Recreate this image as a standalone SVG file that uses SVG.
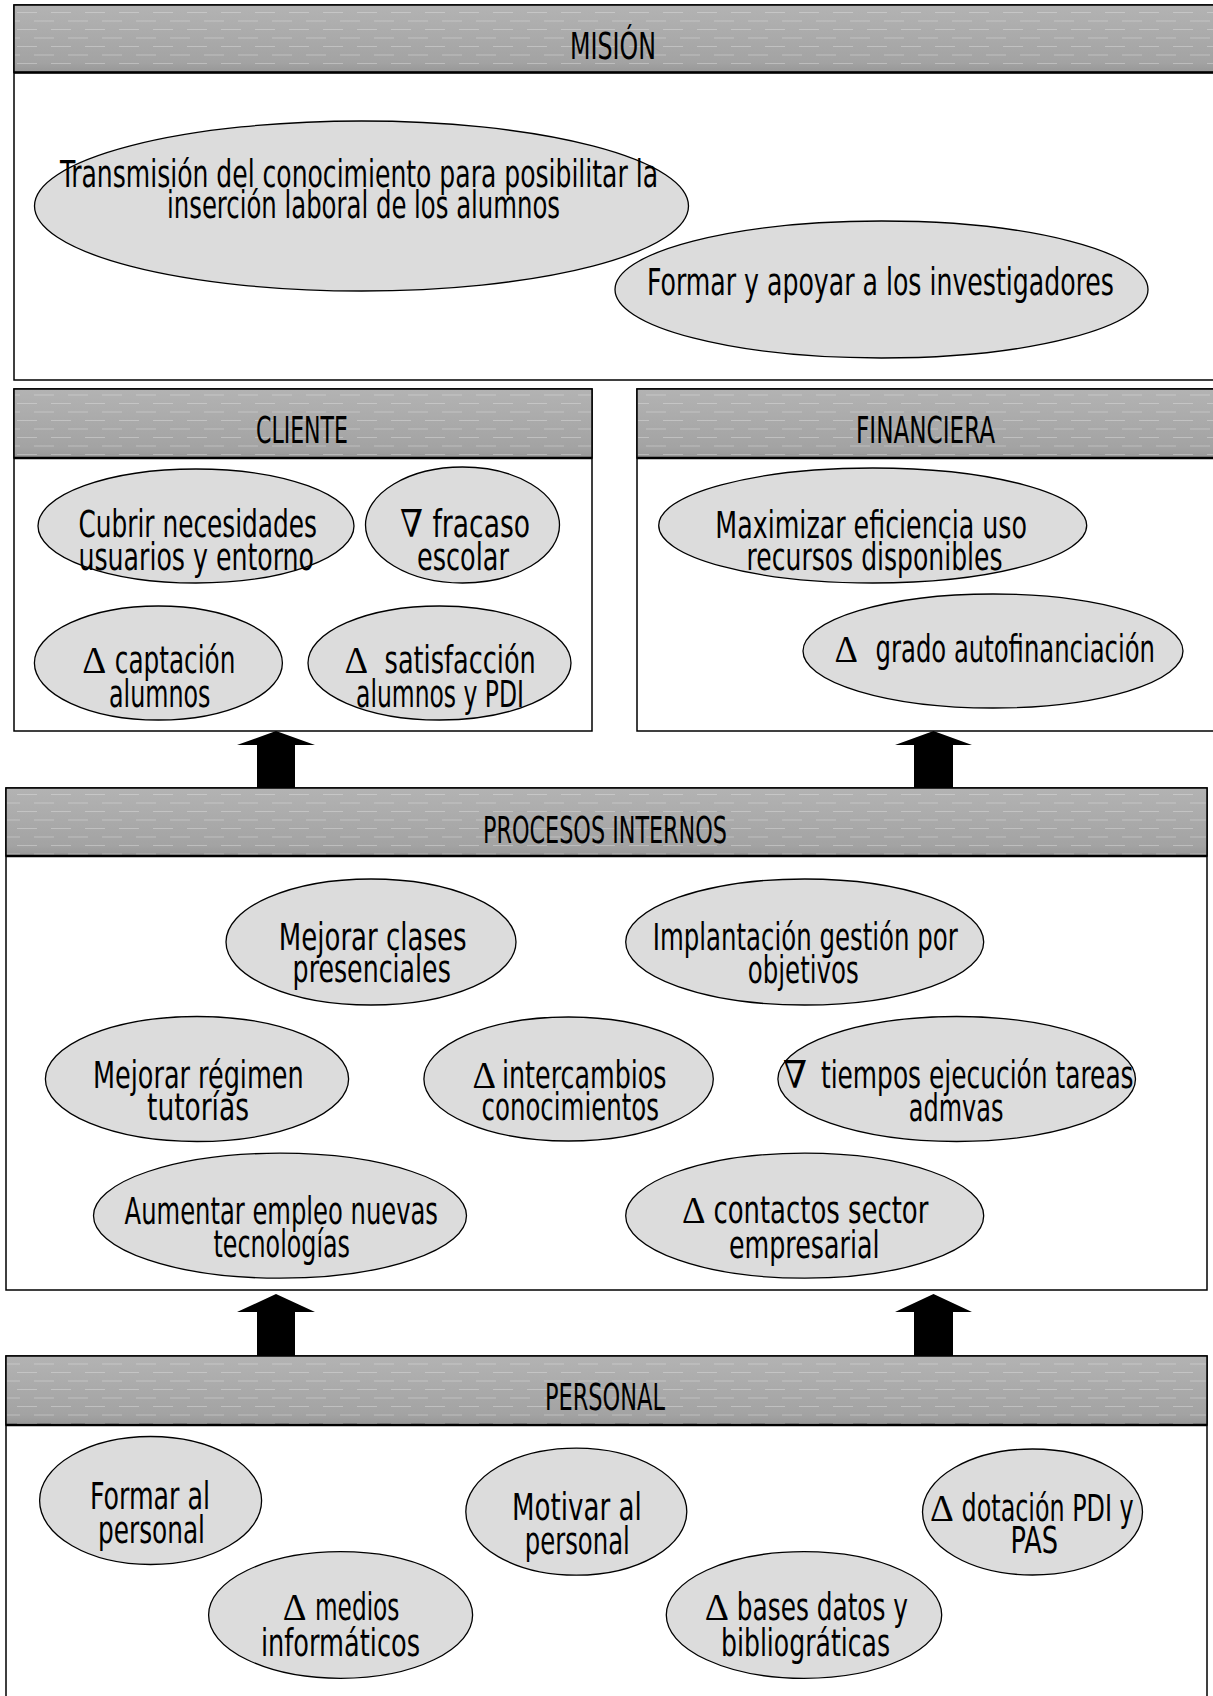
<svg xmlns="http://www.w3.org/2000/svg" width="1213" height="1696" viewBox="0 0 1213 1696">
<defs>
<linearGradient id="hg" x1="0" y1="0" x2="0" y2="1">
<stop offset="0" stop-color="#b3b3b3"/>
<stop offset="0.85" stop-color="#a3a3a3"/>
<stop offset="1" stop-color="#979797"/>
</linearGradient>
<pattern id="dash" width="34" height="17" patternUnits="userSpaceOnUse">
<line x1="0" y1="4" x2="20" y2="4" stroke="#e6e6e6" stroke-opacity="0.4" stroke-width="1"/>
<line x1="17" y1="12.5" x2="34" y2="12.5" stroke="#e6e6e6" stroke-opacity="0.4" stroke-width="1"/>
<line x1="0" y1="12.5" x2="3" y2="12.5" stroke="#e6e6e6" stroke-opacity="0.4" stroke-width="1"/>
</pattern>
</defs>
<style>
.box{fill:#fff;stroke:#000;stroke-width:1.5}
.hdr{fill:url(#hg);stroke:#000;stroke-width:1.5}
.tex{fill:url(#dash);stroke:none}
.hline{stroke:#000;stroke-width:2.5}
.ell{fill:#dcdcdc;stroke:#000;stroke-width:1.3}
.t{font-family:"DejaVu Sans Condensed","DejaVu Sans",sans-serif;font-stretch:condensed;font-size:37px;fill:#000}
.s{font-family:"Liberation Serif","DejaVu Serif",serif;font-size:38px;fill:#000}
.arrow{fill:#000}
</style>
<rect width="1213" height="1696" fill="#fff"/>

<!-- Perspective boxes -->
<g id="mision">
<rect class="box" x="14" y="5" width="1215" height="375"/>
<rect class="hdr" x="14" y="5" width="1215" height="67.5"/>
<rect class="tex" x="15" y="6" width="1214" height="65"/>
<line class="hline" x1="14" y1="72.5" x2="1229" y2="72.5"/>
<text class="t" x="570" y="59" textLength="86" lengthAdjust="spacingAndGlyphs">MISIÓN</text>
</g>
<g id="cliente">
<rect class="box" x="14" y="389" width="578" height="342"/>
<rect class="hdr" x="14" y="389" width="578" height="69"/>
<rect class="tex" x="15" y="390" width="576" height="67"/>
<line class="hline" x1="14" y1="458" x2="592" y2="458"/>
<text class="t" x="256" y="443" textLength="92" lengthAdjust="spacingAndGlyphs">CLIENTE</text>
</g>
<g id="financiera">
<rect class="box" x="637" y="389" width="592" height="342"/>
<rect class="hdr" x="637" y="389" width="592" height="69"/>
<rect class="tex" x="638" y="390" width="590" height="67"/>
<line class="hline" x1="637" y1="458" x2="1229" y2="458"/>
<text class="t" x="856" y="443" textLength="139" lengthAdjust="spacingAndGlyphs">FINANCIERA</text>
</g>
<g id="procesos">
<rect class="box" x="6" y="788" width="1201" height="502" stroke-width="2"/>
<rect class="hdr" x="6" y="788" width="1201" height="68"/>
<rect class="tex" x="7" y="789" width="1199" height="66"/>
<line class="hline" x1="6" y1="856" x2="1207" y2="856"/>
<text class="t" x="483" y="843" textLength="244" lengthAdjust="spacingAndGlyphs">PROCESOS INTERNOS</text>
</g>
<g id="personal">
<rect class="box" x="6" y="1356" width="1201" height="360" stroke-width="2"/>
<rect class="hdr" x="6" y="1356" width="1201" height="69"/>
<rect class="tex" x="7" y="1357" width="1199" height="67"/>
<line class="hline" x1="6" y1="1425" x2="1207" y2="1425"/>
<text class="t" x="545" y="1410" textLength="120" lengthAdjust="spacingAndGlyphs">PERSONAL</text>
</g>

<!-- MISION nodes -->
<g id="n-transmision">
<ellipse class="ell" cx="361.5" cy="206" rx="327" ry="85"/>
<text class="t" x="60" y="187" textLength="598" lengthAdjust="spacingAndGlyphs">Transmisión del conocimiento para posibilitar la</text>
<text class="t" x="167" y="218" textLength="393" lengthAdjust="spacingAndGlyphs">inserción laboral de los alumnos</text>
</g>
<g id="n-investigadores">
<ellipse class="ell" cx="881.5" cy="289.5" rx="266.5" ry="68.5"/>
<text class="t" x="647" y="295" textLength="467" lengthAdjust="spacingAndGlyphs">Formar y apoyar a los investigadores</text>
</g>

<!-- CLIENTE nodes -->
<g id="n-cubrir">
<ellipse class="ell" cx="196" cy="526" rx="158" ry="57"/>
<text class="t" x="78.5" y="537" textLength="238.5" lengthAdjust="spacingAndGlyphs">Cubrir necesidades</text>
<text class="t" x="78.5" y="570" textLength="235.5" lengthAdjust="spacingAndGlyphs">usuarios y entorno</text>
</g>
<g id="n-fracaso">
<ellipse class="ell" cx="462.5" cy="525" rx="97" ry="58"/>
<text class="s" x="400" y="537" textLength="23" lengthAdjust="spacingAndGlyphs">∇</text>
<text class="t" x="432.5" y="537" textLength="97.5" lengthAdjust="spacingAndGlyphs">fracaso</text>
<text class="t" x="417" y="570" textLength="92" lengthAdjust="spacingAndGlyphs">escolar</text>
</g>
<g id="n-captacion">
<ellipse class="ell" cx="158.4" cy="663" rx="124" ry="57"/>
<text class="s" x="82.3" y="673" textLength="24" lengthAdjust="spacingAndGlyphs">Δ</text>
<text class="t" x="114.8" y="673" textLength="120.6" lengthAdjust="spacingAndGlyphs">captación</text>
<text class="t" x="109" y="707" textLength="101.5" lengthAdjust="spacingAndGlyphs">alumnos</text>
</g>
<g id="n-satisfaccion">
<ellipse class="ell" cx="439.5" cy="663" rx="131.5" ry="57"/>
<text class="s" x="344.4" y="673" textLength="23.6" lengthAdjust="spacingAndGlyphs">Δ</text>
<text class="t" x="384.6" y="673" textLength="151.2" lengthAdjust="spacingAndGlyphs">satisfacción</text>
<text class="t" x="356" y="707" textLength="168" lengthAdjust="spacingAndGlyphs">alumnos y PDI</text>
</g>

<!-- FINANCIERA nodes -->
<g id="n-maximizar">
<ellipse class="ell" cx="872.7" cy="525.5" rx="214" ry="57.5"/>
<text class="t" x="715.3" y="538" textLength="311.7" lengthAdjust="spacingAndGlyphs">Maximizar eficiencia uso</text>
<text class="t" x="746.6" y="570" textLength="256" lengthAdjust="spacingAndGlyphs">recursos disponibles</text>
</g>
<g id="n-autofinanciacion">
<ellipse class="ell" cx="993" cy="651" rx="190" ry="57"/>
<text class="s" x="834.6" y="662" textLength="23.4" lengthAdjust="spacingAndGlyphs">Δ</text>
<text class="t" x="875.6" y="662" textLength="279.4" lengthAdjust="spacingAndGlyphs">grado autofinanciación</text>
</g>

<!-- PROCESOS nodes -->
<g id="n-clases">
<ellipse class="ell" cx="371" cy="942" rx="145" ry="63"/>
<text class="t" x="278.8" y="950" textLength="187.8" lengthAdjust="spacingAndGlyphs">Mejorar clases</text>
<text class="t" x="292.6" y="982" textLength="158.2" lengthAdjust="spacingAndGlyphs">presenciales</text>
</g>
<g id="n-implantacion">
<ellipse class="ell" cx="804.7" cy="942" rx="179" ry="63"/>
<text class="t" x="652.8" y="950" textLength="304.9" lengthAdjust="spacingAndGlyphs">Implantación gestión por</text>
<text class="t" x="747.8" y="983" textLength="111" lengthAdjust="spacingAndGlyphs">objetivos</text>
</g>
<g id="n-tutorias">
<ellipse class="ell" cx="197" cy="1079" rx="151.6" ry="62.5"/>
<text class="t" x="93" y="1088" textLength="210.7" lengthAdjust="spacingAndGlyphs">Mejorar régimen</text>
<text class="t" x="147" y="1120" textLength="102" lengthAdjust="spacingAndGlyphs">tutorías</text>
</g>
<g id="n-intercambios">
<ellipse class="ell" cx="568.6" cy="1079" rx="144.7" ry="62"/>
<text class="s" x="472.5" y="1088" textLength="23.5" lengthAdjust="spacingAndGlyphs">Δ</text>
<text class="t" x="502" y="1088" textLength="164.5" lengthAdjust="spacingAndGlyphs">intercambios</text>
<text class="t" x="481.5" y="1120" textLength="177.5" lengthAdjust="spacingAndGlyphs">conocimientos</text>
</g>
<g id="n-tiempos">
<ellipse class="ell" cx="956.7" cy="1079" rx="178.8" ry="62.5"/>
<text class="s" x="783" y="1088" textLength="24" lengthAdjust="spacingAndGlyphs">∇</text>
<text class="t" x="820.9" y="1088" textLength="312.7" lengthAdjust="spacingAndGlyphs">tiempos ejecución tareas</text>
<text class="t" x="908.8" y="1121" textLength="94.6" lengthAdjust="spacingAndGlyphs">admvas</text>
</g>
<g id="n-empleo">
<ellipse class="ell" cx="280" cy="1215.7" rx="186.5" ry="62.5"/>
<text class="t" x="124.6" y="1224" textLength="313.4" lengthAdjust="spacingAndGlyphs">Aumentar empleo nuevas</text>
<text class="t" x="213.5" y="1257" textLength="136.5" lengthAdjust="spacingAndGlyphs">tecnologías</text>
</g>
<g id="n-contactos">
<ellipse class="ell" cx="804.7" cy="1215.7" rx="179" ry="62.5"/>
<text class="s" x="682" y="1223" textLength="23.5" lengthAdjust="spacingAndGlyphs">Δ</text>
<text class="t" x="713.4" y="1223" textLength="215" lengthAdjust="spacingAndGlyphs">contactos sector</text>
<text class="t" x="729" y="1258" textLength="150.5" lengthAdjust="spacingAndGlyphs">empresarial</text>
</g>

<!-- PERSONAL nodes -->
<g id="n-formar">
<ellipse class="ell" cx="150.6" cy="1500.5" rx="111" ry="64"/>
<text class="t" x="90" y="1509" textLength="120" lengthAdjust="spacingAndGlyphs">Formar al</text>
<text class="t" x="98" y="1543" textLength="107" lengthAdjust="spacingAndGlyphs">personal</text>
</g>
<g id="n-motivar">
<ellipse class="ell" cx="576.3" cy="1511.7" rx="110.5" ry="63.5"/>
<text class="t" x="512" y="1520" textLength="129.7" lengthAdjust="spacingAndGlyphs">Motivar al</text>
<text class="t" x="524.8" y="1554" textLength="105" lengthAdjust="spacingAndGlyphs">personal</text>
</g>
<g id="n-dotacion">
<ellipse class="ell" cx="1032.5" cy="1512" rx="110" ry="63"/>
<text class="s" x="930" y="1521" textLength="23.8" lengthAdjust="spacingAndGlyphs">Δ</text>
<text class="t" x="961.6" y="1521" textLength="172" lengthAdjust="spacingAndGlyphs">dotación PDI y</text>
<text class="t" x="1010.5" y="1553" textLength="47.5" lengthAdjust="spacingAndGlyphs">PAS</text>
</g>
<g id="n-medios">
<ellipse class="ell" cx="340.6" cy="1615" rx="132" ry="63.3"/>
<text class="s" x="282.7" y="1620" textLength="23.7" lengthAdjust="spacingAndGlyphs">Δ</text>
<text class="t" x="315" y="1620" textLength="84.4" lengthAdjust="spacingAndGlyphs">medios</text>
<text class="t" x="261" y="1656" textLength="159" lengthAdjust="spacingAndGlyphs">informáticos</text>
</g>
<g id="n-bases">
<ellipse class="ell" cx="804" cy="1615" rx="137.7" ry="63.3"/>
<text class="s" x="704.8" y="1620" textLength="24.2" lengthAdjust="spacingAndGlyphs">Δ</text>
<text class="t" x="736.8" y="1620" textLength="171.2" lengthAdjust="spacingAndGlyphs">bases datos y</text>
<text class="t" x="721" y="1656" textLength="169" lengthAdjust="spacingAndGlyphs">bibliográticas</text>
</g>

<!-- Connectors -->
<g id="connectors">
<polygon class="arrow" points="276,731 315,745 295,745 295,788 257,788 257,745 237,745"/>
<polygon class="arrow" points="933.5,731 972,745 953,745 953,788 914,788 914,745 895,745"/>
<polygon class="arrow" points="276,1294 315,1312 295,1312 295,1356 257,1356 257,1312 237,1312"/>
<polygon class="arrow" points="933.5,1294 972,1312 953,1312 953,1356 914,1356 914,1312 895,1312"/>
</g>
</svg>
